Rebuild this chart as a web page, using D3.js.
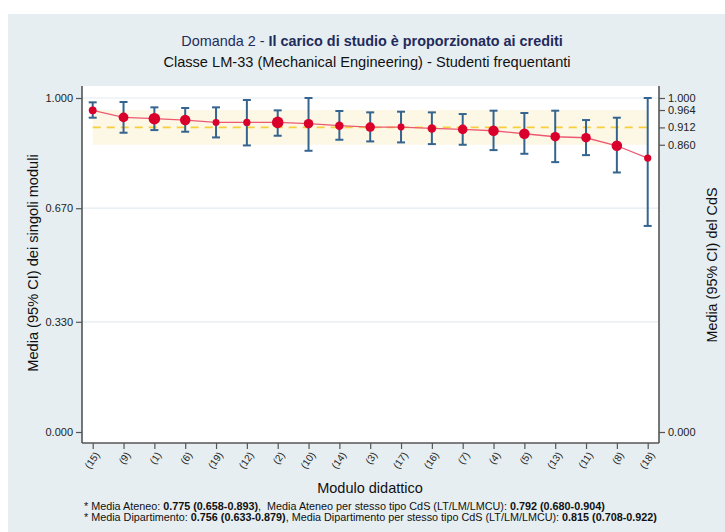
<!DOCTYPE html>
<html>
<head>
<meta charset="utf-8">
<script src="https://cdn.jsdelivr.net/npm/d3@7"></script>
<style>
  html, body { margin: 0; padding: 0; background: #ffffff; }
  svg { display: block; font-family: "Liberation Sans", Arial, Helvetica, sans-serif; }
</style>
</head>
<body>
<svg id="chart" width="725" height="532"></svg>
<script>
// Moduli didattici, ordinati per media decrescente
const moduli = ["(15)", "(9)", "(1)", "(6)", "(19)", "(12)", "(2)", "(10)", "(14)", "(3)",
                "(17)", "(16)", "(7)", "(4)", "(5)", "(13)", "(11)", "(8)", "(18)"];
// Media di ciascun modulo
const medie   = [0.963, 0.942, 0.938, 0.934, 0.927, 0.927, 0.927, 0.923, 0.917, 0.913,
                 0.913, 0.909, 0.906, 0.902, 0.893, 0.884, 0.881, 0.857, 0.820];
// Intervallo di confidenza al 95%
const ciBasso = [0.941, 0.896, 0.904, 0.899, 0.882, 0.858, 0.887, 0.842, 0.875, 0.870,
                 0.867, 0.862, 0.860, 0.844, 0.833, 0.808, 0.829, 0.777, 0.617];
const ciAlto  = [0.987, 0.988, 0.972, 0.970, 0.972, 0.994, 0.963, 1.000, 0.961, 0.957,
                 0.959, 0.957, 0.952, 0.962, 0.955, 0.962, 0.934, 0.941, 1.000];
// Numero di rispondenti (dimensione del marcatore)
const rispondenti = [13, 20, 28, 23, 10, 11, 28, 19, 15, 19, 10, 15, 19, 23, 23, 19, 19, 23, 11];

// Media del CdS con il suo intervallo
const mediaCdS = 0.912;
const ciCdS = [0.860, 0.964];

const tickSinistra = [0.000, 0.330, 0.670, 1.000];
const tickDestra = [0.000, 0.860, 0.912, 0.964, 1.000];

const svg = d3.select("#chart");
const W = 725, H = 532;

// sfondo del pannello
svg.append("rect").attr("x", 8).attr("y", 14).attr("width", W - 8).attr("height", H - 14)
  .attr("fill", "#e6eef1");

const plot = { left: 82, right: 659, top: 86, bottom: 443 };

const x = d3.scalePoint().domain(moduli).range([92.7, 647.7]);
const y = d3.scaleLinear().domain([0, 1]).range([432, 98]);
const r = d3.scaleSqrt().domain([0, 28]).range([0, 5.8]);

// area del grafico
svg.append("rect").attr("x", plot.left).attr("y", plot.top)
  .attr("width", plot.right - plot.left).attr("height", plot.bottom - plot.top)
  .attr("fill", "#ffffff");

// griglia orizzontale
svg.append("g").selectAll("line").data(tickSinistra.filter(d => d > 0)).join("line")
  .attr("x1", plot.left).attr("x2", plot.right)
  .attr("y1", d => y(d)).attr("y2", d => y(d))
  .attr("stroke", "#e3ecf1").attr("stroke-width", 1.2);

// fascia dell'intervallo del CdS
svg.append("rect")
  .attr("x", x(moduli[0])).attr("width", x(moduli[moduli.length - 1]) - x(moduli[0]))
  .attr("y", y(ciCdS[1])).attr("height", y(ciCdS[0]) - y(ciCdS[1]))
  .attr("fill", "#fdf7e6");

// media del CdS
svg.append("line")
  .attr("x1", x(moduli[0])).attr("x2", x(moduli[moduli.length - 1]))
  .attr("y1", y(mediaCdS)).attr("y2", y(mediaCdS))
  .attr("stroke", "#f7cf3c").attr("stroke-width", 1.6).attr("stroke-dasharray", "8,6");

const dati = moduli.map((m, i) => ({ m, v: medie[i], lo: ciBasso[i], hi: ciAlto[i], n: rispondenti[i] }));

// linea che collega le medie
svg.append("path").datum(dati)
  .attr("d", d3.line().x(d => x(d.m)).y(d => y(d.v)))
  .attr("fill", "none").attr("stroke", "#ec5a72").attr("stroke-width", 1.3);

// barre di errore
const eb = svg.append("g").attr("stroke", "#35648f").attr("stroke-width", 2).attr("fill", "none");
dati.forEach(d => {
  eb.append("line").attr("x1", x(d.m)).attr("x2", x(d.m)).attr("y1", y(d.lo)).attr("y2", y(d.hi));
  eb.append("line").attr("x1", x(d.m) - 4).attr("x2", x(d.m) + 4).attr("y1", y(d.lo)).attr("y2", y(d.lo));
  eb.append("line").attr("x1", x(d.m) - 4).attr("x2", x(d.m) + 4).attr("y1", y(d.hi)).attr("y2", y(d.hi));
});

// medie dei moduli
svg.append("g").selectAll("circle").data(dati).join("circle")
  .attr("cx", d => x(d.m)).attr("cy", d => y(d.v)).attr("r", d => r(d.n))
  .attr("fill", "#d9002b");

// assi
const axisColor = "#555555";
const gL = svg.append("g").attr("transform", `translate(${plot.left},0)`)
  .call(d3.axisLeft(y).tickValues(tickSinistra).tickFormat(d3.format(".3f")).tickSize(6).tickPadding(3));
const gR = svg.append("g").attr("transform", `translate(${plot.right},0)`)
  .call(d3.axisRight(y).tickValues(tickDestra).tickFormat(d3.format(".3f")).tickSize(6).tickPadding(3));
const gB = svg.append("g").attr("transform", `translate(0,${plot.bottom})`)
  .call(d3.axisBottom(x).tickSize(6).tickPadding(3));

[gL, gR, gB].forEach(g => {
  g.select(".domain").remove();
  g.selectAll(".tick line").attr("stroke", axisColor).attr("stroke-width", 1.2);
  g.selectAll("text").attr("fill", "#222").attr("font-size", 11)
    .attr("font-family", "'Liberation Sans', Arial, sans-serif");
});
gB.selectAll("text").attr("font-size", 10)
  .attr("text-anchor", "end").attr("dy", "0.35em")
  .attr("transform", "translate(4,10) rotate(-55)").attr("x", 0).attr("y", 0);

// linee degli assi
const al = svg.append("g").attr("stroke", axisColor).attr("stroke-width", 1.6);
al.append("line").attr("x1", plot.left).attr("x2", plot.left).attr("y1", plot.top).attr("y2", plot.bottom);
al.append("line").attr("x1", plot.right).attr("x2", plot.right).attr("y1", plot.top).attr("y2", plot.bottom);
al.append("line").attr("x1", plot.left).attr("x2", plot.right).attr("y1", plot.bottom).attr("y2", plot.bottom);

// titoli
const t1 = svg.append("text").attr("x", 372).attr("y", 46).attr("text-anchor", "middle")
  .attr("font-size", 14.4).attr("fill", "#1f2b5b");
t1.append("tspan").text("Domanda 2 - ");
t1.append("tspan").attr("font-weight", "bold").text("Il carico di studio è proporzionato ai crediti");

svg.append("text").attr("x", 367).attr("y", 67).attr("text-anchor", "middle")
  .attr("font-size", 14.6).attr("fill", "#111").text("Classe LM-33 (Mechanical Engineering) - Studenti frequentanti");

// titoli degli assi
svg.append("text").attr("transform", "translate(38,263) rotate(-90)").attr("text-anchor", "middle")
  .attr("font-size", 14.6).attr("fill", "#111").text("Media (95% CI) dei singoli moduli");
svg.append("text").attr("transform", "translate(717,265) rotate(-90)").attr("text-anchor", "middle")
  .attr("font-size", 14.4).attr("fill", "#111").text("Media (95% CI) del CdS");
svg.append("text").attr("x", 370).attr("y", 493).attr("text-anchor", "middle")
  .attr("font-size", 14.5).attr("fill", "#111").text("Modulo didattico");

// note a piè di pagina
const note = [
  [["* Media Ateneo: ", false], ["0.775 (0.658-0.893)", true], [",  Media Ateneo per stesso tipo CdS (LT/LM/LMCU): ", false], ["0.792 (0.680-0.904)", true]],
  [["* Media Dipartimento: ", false], ["0.756 (0.633-0.879)", true], [", Media Dipartimento per stesso tipo CdS (LT/LM/LMCU): ", false], ["0.815 (0.708-0.922)", true]]
];
note.forEach((riga, i) => {
  const t = svg.append("text").attr("x", 84).attr("y", 510 + i * 10.5)
    .attr("font-size", 10.8).attr("fill", "#111").attr("xml:space", "preserve");
  riga.forEach(([s, b]) => t.append("tspan").attr("font-weight", b ? "bold" : "normal").text(s));
});
</script>
</body>
</html>
